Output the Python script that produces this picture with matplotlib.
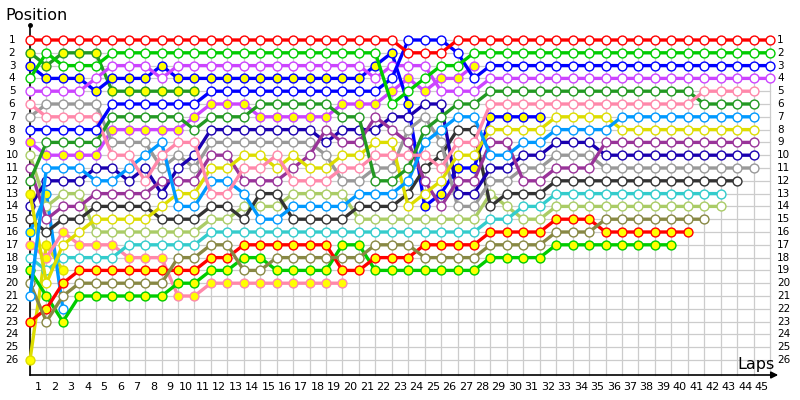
import matplotlib
matplotlib.use("Agg")
import matplotlib.pyplot as plt

# position per lap, written as (position, number of laps) runs starting at lap 0
red1 = [(1, 23), (2, 3), (1, 20)]
grn1 = [(4, 1), (2, 1), (3, 3), (2, 17), (6, 1), (5, 1), (4, 1), (3, 2), (2, 19)]
blu1 = [(8, 5), (6, 6), (5, 11), (4, 1), (1, 3), (2, 1), (4, 1), (3, 18)]
vio1 = [(5, 4), (4, 1), (3, 3), (4, 1), (3, 12), (4, 1), (3, 3), (5, 3), (4, 18)]
pnk1 = [(6, 1), (7, 4), (10, 2), (12, 1), (10, 1), (9, 2), (13, 2), (11, 2), (10, 1),
        (12, 3), (11, 2), (10, 4), (11, 1), (9, 2), (6, 13), (5, 4)]
dgr1 = [(12, 1), (9, 4), (7, 5), (8, 1), (7, 3), (6, 5), (7, 2), (12, 2), (11, 1),
        (8, 1), (7, 1), (6, 2), (5, 13), (6, 4)]
sky1 = [(21, 1), (11, 3), (12, 2), (11, 1), (10, 1), (9, 1), (14, 2), (12, 2), (13, 1),
        (15, 2), (14, 4), (13, 3), (12, 1), (9, 1), (8, 1), (7, 2), (10, 2), (9, 2),
        (8, 4), (7, 9)]
yel1 = [(13, 1), (20, 1), (17, 1), (16, 1), (15, 4), (14, 1), (13, 2), (11, 2), (10, 2),
        (11, 1), (10, 1), (11, 2), (10, 2), (9, 2), (14, 1), (13, 1), (12, 1), (10, 2),
        (8, 4), (7, 4), (8, 9)]
pur1 = [(11, 1), (15, 1), (14, 2), (13, 4), (12, 3), (10, 2), (12, 3), (11, 1), (10, 1),
        (8, 1), (9, 2), (7, 1), (8, 1), (9, 1), (12, 1), (14, 1), (12, 2), (9, 2),
        (12, 2), (11, 3), (9, 10)]
dbl1 = [(14, 1), (12, 3), (11, 2), (12, 1), (11, 1), (13, 1), (11, 1), (10, 1), (8, 7),
        (9, 1), (8, 3), (7, 2), (6, 2), (13, 2), (11, 2), (10, 2), (9, 3), (10, 10)]
gry1 = [(7, 1), (6, 4), (9, 3), (11, 1), (10, 1), (11, 1), (9, 7), (10, 1), (12, 2),
        (11, 2), (8, 1), (7, 1), (9, 1), (14, 2), (12, 2), (11, 2), (10, 3), (11, 10)]
blk1 = [(15, 1), (16, 1), (15, 2), (14, 4), (15, 3), (14, 2), (15, 1), (13, 2), (15, 4),
        (14, 3), (13, 1), (11, 1), (10, 1), (8, 2), (14, 1), (13, 3), (12, 12)]
cyn1 = [(18, 1), (19, 1), (18, 4), (17, 5), (16, 17), (15, 2), (14, 2), (13, 11)]
lgr1 = [(10, 1), (14, 1), (13, 2), (16, 7), (15, 2), (14, 3), (13, 4), (15, 8), (13, 1),
        (14, 1), (15, 2), (14, 11)]
olv1 = [(20, 1), (23, 1), (21, 1), (20, 6), (18, 2), (17, 2), (19, 2), (18, 6), (17, 3),
        (18, 4), (17, 4), (16, 3), (15, 7)]
red2 = [(23, 1), (22, 1), (20, 1), (19, 8), (18, 2), (17, 6), (19, 2), (18, 3), (17, 4),
        (16, 4), (15, 3), (16, 6)]
grn2 = [(19, 1), (21, 1), (23, 1), (21, 6), (20, 2), (19, 2), (18, 2), (19, 4), (17, 2),
        (19, 7), (18, 4), (17, 8)]
pnk2 = [(17, 1), (18, 1), (16, 1), (17, 3), (18, 3), (21, 2), (20, 9)]
blu2 = [(3, 1), (4, 3), (5, 1), (4, 3), (3, 1), (4, 12), (3, 1), (2, 1), (6, 1), (14, 1),
        (13, 1), (11, 2), (7, 4)]
vio2 = [(9, 1), (10, 4), (8, 5), (7, 1), (6, 3), (7, 5), (6, 3), (5, 1), (4, 1), (5, 1),
        (4, 2), (3, 1)]
dgr2 = [(2, 1), (3, 1), (2, 3), (5, 6)]
sky2 = [(16, 1), (13, 1), (22, 1)]
yel2 = [(26, 1), (17, 1), (19, 1)]

# (runs, colour, laps drawn with a yellow marker: None = all)
drivers = [
    (red1, '#ff0000', []), (grn1, '#00cc00', []), (blu1, '#0000ff', []),
    (vio1, '#cc44ff', []), (pnk1, '#ff88aa', []), (dgr1, '#229922', []),
    (sky1, '#0099ff', []), (yel1, '#dddd00', [0]), (pur1, '#993399', []),
    (dbl1, '#1a00b0', []), (gry1, '#999999', []), (blk1, '#333333', []),
    (cyn1, '#33cccc', []), (lgr1, '#aacc66', []), (olv1, '#888844', []),
    (red2, '#ff0000', None), (grn2, '#00cc00', None), (pnk2, '#ff88aa', None),
    (blu2, '#0000ff', None), (vio2, '#cc44ff', None), (dgr2, '#229922', None),
    (sky2, '#0099ff', [0, 1]), (yel2, '#dddd00', None),
]

n_laps = 45
n_pos = 26
lap_labels = [str(i) for i in range(1, n_laps + 1)]
pos_labels = [str(i) for i in range(1, n_pos + 1)]


def expand(runs):
    out = []
    for p, n in runs:
        out += [p] * n
    return out


fig = plt.figure(figsize=(8, 4), dpi=100)
ax = fig.add_axes([0, 0, 1, 1])
px = 740 / n_laps          # pixels per lap
py = 12.8                  # pixels per position
ax.set_xlim(-30 / px, n_laps + 30 / px)
ax.set_ylim(1 + 360 / py, 1 - 40 / py)
ax.axis('off')

base = 1 + 335 / py        # position value of the lap axis
top = 1 - 15 / py

# grid
for i in range(0, n_laps + 1):
    ax.plot([i, i], [1, base], color='#cccccc', lw=0.9, zorder=0)
for p in range(1, n_pos + 1):
    ax.plot([0, n_laps], [p, p], color='#cccccc', lw=0.9, zorder=0)

# axes
ax.plot([0, 0], [top, base], color='black', lw=1.2, zorder=1)
ax.plot([0], [top], marker='o', color='black', ms=2.5, zorder=1)
ax.annotate('', xy=(n_laps + 0.5, base), xytext=(0, base),
            arrowprops=dict(arrowstyle='-|>', color='black', lw=1.2,
                            mutation_scale=10, shrinkA=0, shrinkB=0))

for i, lab in enumerate(lap_labels):
    ax.text(i + 0.5, base + 12 / py, lab, ha='center', va='center', fontsize=8)
for p, lab in zip(range(1, n_pos + 1), pos_labels):
    ax.text(-18 / px, p, lab, ha='center', va='center', fontsize=7.5)
    ax.text(n_laps + 7 / px, p, lab, ha='left', va='center', fontsize=7.5)

ax.text(-25 / px, 1 - 25 / py, 'Position', ha='left', va='center', fontsize=11.5)
ax.text(n_laps + 0.3, base - 11 / py, 'Laps', ha='right', va='center', fontsize=11.5)

# driver lines
for k, (runs, col, yl) in enumerate(reversed(drivers)):
    pos = expand(runs)
    laps = list(range(len(pos)))
    z = 2 + k * 0.01
    ax.plot(laps, pos, color=col, lw=2.4, solid_capstyle='round', zorder=z)
    for i, p in zip(laps, pos):
        yellow = yl is None or i in yl
        ax.plot(i, p, marker='o', ms=6.4, mec=col, mew=1.0,
                mfc='#ffff00' if yellow else 'white', zorder=z + 0.005)

fig.savefig('out.png', dpi=100)
